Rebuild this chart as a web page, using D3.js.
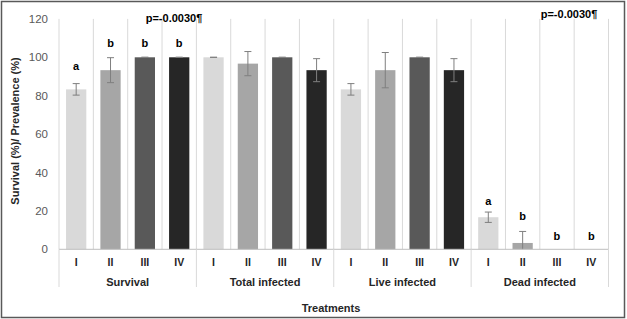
<!DOCTYPE html>
<html><head><meta charset="utf-8">
<script src="https://cdn.jsdelivr.net/npm/d3@7"></script>
<style>
html,body{margin:0;padding:0;background:#fff;}
svg{display:block;font-family:"Liberation Sans",Arial,sans-serif;}
</style></head>
<body>
<svg id="c" width="627" height="319"></svg>
<script>
const groups = ["Survival", "Total infected", "Live infected", "Dead infected"];
const treatments = ["I", "II", "III", "IV"];
const values = [
  [83.3, 93.3, 100, 100],
  [100, 96.7, 100, 93.3],
  [83.3, 93.3, 100, 93.3],
  [16.7, 3.3, 0, 0]
];
const errors = [
  [3.0, 6.5, 0, 0],
  [0, 6.3, 0, 6.0],
  [3.0, 9.2, 0, 6.0],
  [2.7, 6.0, 0, 0]
];
const letters = [
  ["a", "b", "b", "b"],
  ["", "", "", ""],
  ["", "", "", ""],
  ["a", "b", "b", "b"]
];
const letterAt = [
  [95.5, 107.6, 107.6, 107.6],
  [0, 0, 0, 0],
  [0, 0, 0, 0],
  [25.3, 17.3, 7.1, 7.1]
];
const yTicks = [0, 20, 40, 60, 80, 100, 120];
const colors = ["#d9d9d9", "#a6a6a6", "#595959", "#262626"];
const pText = "p=-0.0030¶";

const svg = d3.select("#c");
const L = 59, R = 608.5, T = 18.9, B = 249.3;

// outer border
svg.append("rect").attr("x", 1.5).attr("y", 1.5).attr("width", 623).attr("height", 316)
  .attr("fill", "#fff").attr("stroke", "#595959").attr("stroke-width", 1.5);

const cats = [];
groups.forEach((g, gi) => treatments.forEach((t, ti) => cats.push({g, gi, t, ti, key: gi + "-" + ti})));

const x = d3.scaleBand().domain(cats.map(d => d.key)).range([L, R]).paddingInner(0).paddingOuter(0);
const y = d3.scaleLinear().domain([0, 120]).range([B, T]);
const bw = x.bandwidth();
const barW = bw * 0.59;

// vertical gridlines at category boundaries
const bounds = cats.map(d => x(d.key)).concat([R]);
svg.append("g").selectAll("line").data(bounds).join("line")
  .attr("x1", d => d).attr("x2", d => d).attr("y1", y(120)).attr("y2", B)
  .attr("stroke", "#d9d9d9").attr("stroke-width", 1);

// y axis labels
const yAxis = d3.axisLeft(y).tickValues(yTicks).tickSize(0).tickPadding(0);
const ya = svg.append("g").attr("transform", `translate(${L - 11},0)`).call(yAxis);
ya.select(".domain").remove();
ya.selectAll("text").attr("font-size", 11.5).attr("fill", "#595959")
  .attr("font-family", "Liberation Sans, Arial, sans-serif");

// bars
svg.append("g").selectAll("rect").data(cats).join("rect")
  .attr("x", d => x(d.key) + (bw - barW) / 2)
  .attr("width", barW)
  .attr("y", d => y(values[d.gi][d.ti]))
  .attr("height", d => B - y(values[d.gi][d.ti]))
  .attr("fill", d => colors[d.ti]);

// error bars
const eg = svg.append("g").attr("stroke", "#7f7f7f").attr("stroke-width", 1);
cats.forEach(d => {
  const v = values[d.gi][d.ti], e = errors[d.gi][d.ti];
  if (v === 0) return;
  const cx = x(d.key) + bw / 2;
  const lo = Math.max(0, v - e), hi = v + e;
  eg.append("line").attr("x1", cx).attr("x2", cx).attr("y1", y(lo)).attr("y2", y(hi));
  eg.append("line").attr("x1", cx - 3.5).attr("x2", cx + 3.5).attr("y1", y(hi)).attr("y2", y(hi));
  if (lo > 0) eg.append("line").attr("x1", cx - 3.5).attr("x2", cx + 3.5).attr("y1", y(lo)).attr("y2", y(lo));
});

// significance letters
svg.append("g").selectAll("text").data(cats.filter(d => letters[d.gi][d.ti])).join("text")
  .attr("x", d => x(d.key) + bw / 2)
  .attr("y", d => y(letterAt[d.gi][d.ti]))
  .attr("dy", "0.35em")
  .attr("text-anchor", "middle").attr("font-size", 11).attr("font-weight", "bold")
  .attr("fill", "#000").text(d => letters[d.gi][d.ti]);

// baseline
svg.append("line").attr("x1", L).attr("x2", R).attr("y1", B).attr("y2", B)
  .attr("stroke", "#bfbfbf").attr("stroke-width", 1);

// group dividers in the category axis
const gb = groups.map((g, gi) => x(gi + "-0")).concat([R]);
svg.append("g").selectAll("line").data(gb).join("line")
  .attr("x1", d => d).attr("x2", d => d).attr("y1", B).attr("y2", 287)
  .attr("stroke", "#d9d9d9").attr("stroke-width", 1);

// treatment labels
svg.append("g").selectAll("text").data(cats).join("text")
  .attr("x", d => x(d.key) + bw / 2).attr("y", 262).attr("dy", "0.35em")
  .attr("text-anchor", "middle").attr("font-size", 10.5).attr("font-weight", "bold")
  .attr("fill", "#262626").text(d => d.t);

// group labels
svg.append("g").selectAll("text").data(groups).join("text")
  .attr("x", (g, gi) => (gb[gi] + gb[gi + 1]) / 2).attr("y", 282.5).attr("dy", "0.35em")
  .attr("text-anchor", "middle").attr("font-size", 11).attr("font-weight", "bold")
  .attr("fill", "#262626").text(d => d);

// axis titles
svg.append("text").attr("x", 331).attr("y", 308).attr("dy", "0.35em")
  .attr("text-anchor", "middle").attr("font-size", 11).attr("font-weight", "bold")
  .attr("fill", "#262626").text("Treatments");
svg.append("text").attr("transform", "translate(15,131) rotate(-90)").attr("dy", "0.35em")
  .attr("text-anchor", "middle").attr("font-size", 11).attr("font-weight", "bold")
  .attr("fill", "#262626").text("Survival (%)/ Prevalence (%)");

// p-value annotations
svg.append("text").attr("x", 174).attr("y", 18).attr("dy", "0.35em")
  .attr("text-anchor", "middle").attr("font-size", 11).attr("font-weight", "bold")
  .attr("fill", "#000").text(pText);
svg.append("text").attr("x", 569).attr("y", 14).attr("dy", "0.35em")
  .attr("text-anchor", "middle").attr("font-size", 11).attr("font-weight", "bold")
  .attr("fill", "#000").text(pText);
</script>
</body></html>
